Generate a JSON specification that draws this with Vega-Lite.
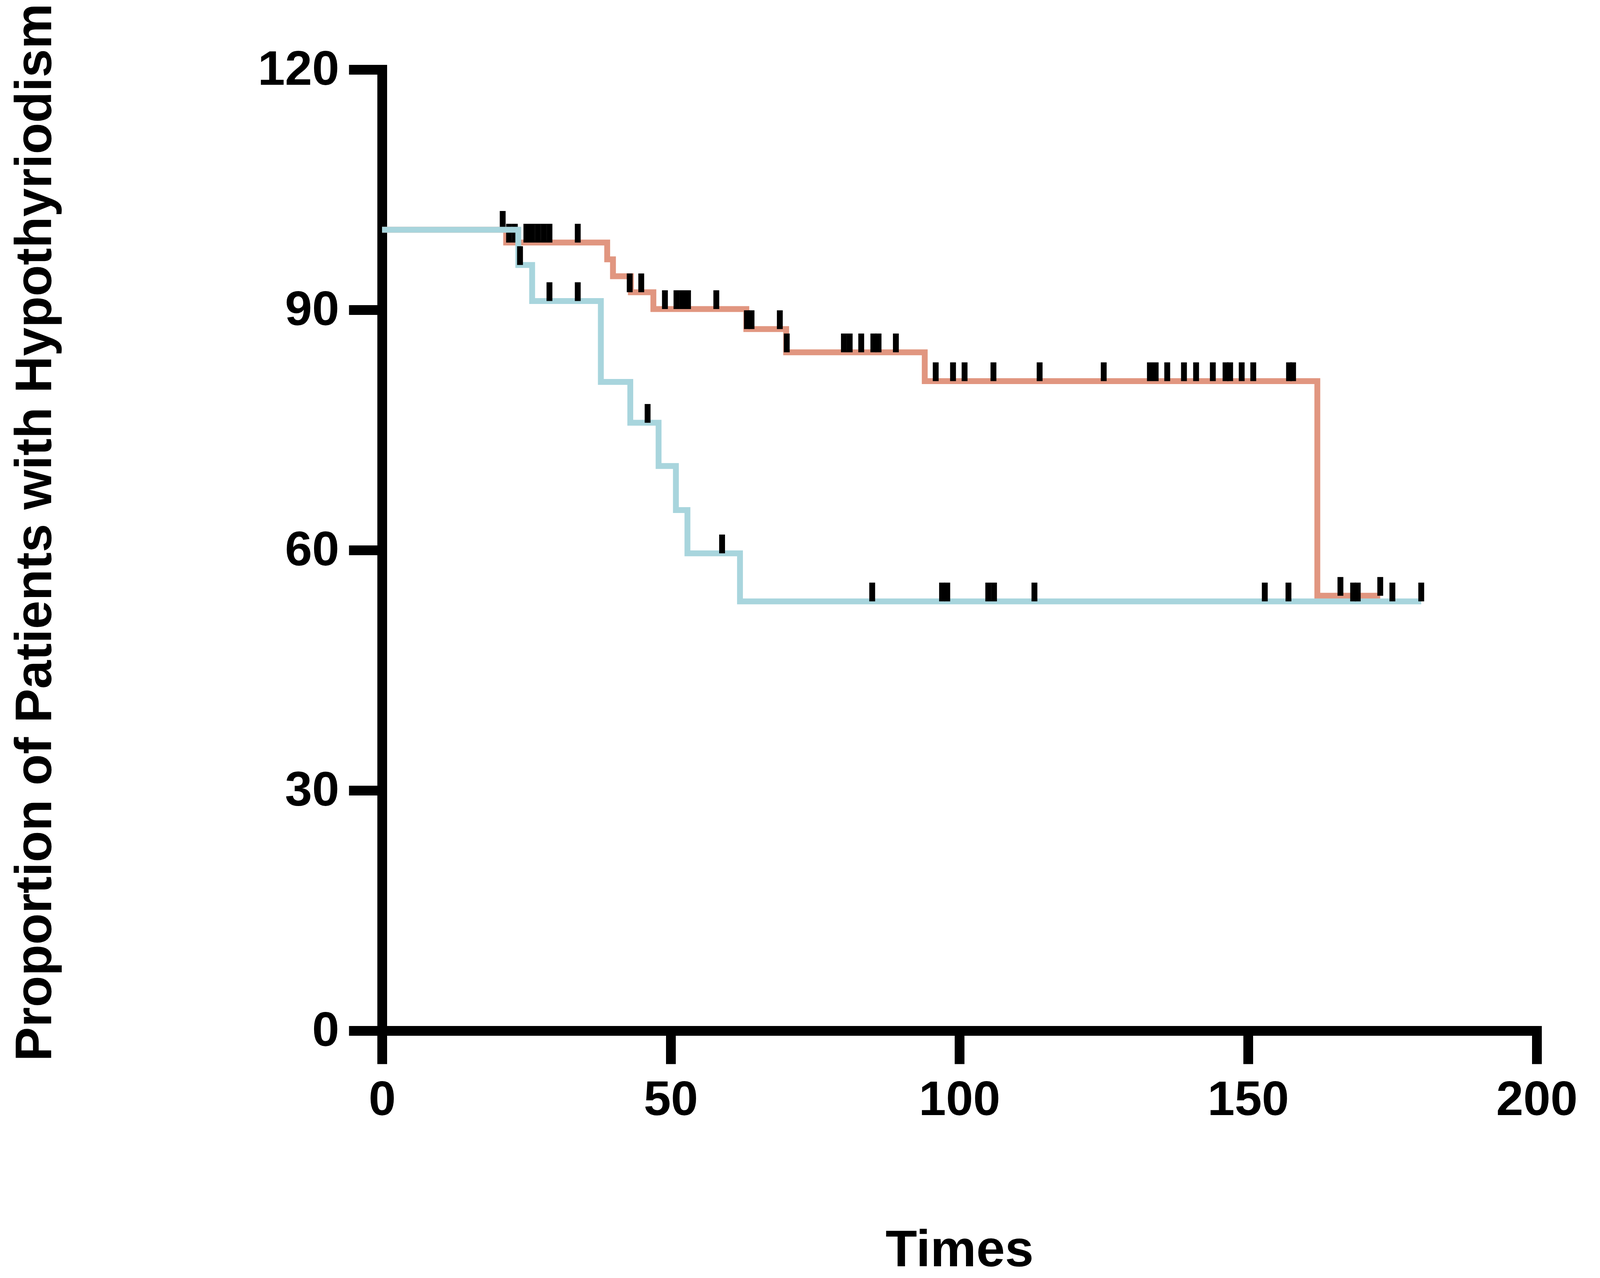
{
  "$schema": "https://vega.github.io/schema/vega-lite/v6.json",
  "description": "Kaplan-Meier style curves, hypothyroidism",
  "autosize": {"type": "none"},
  "width": 2956,
  "height": 2460,
  "padding": {"left": 978, "top": 178, "right": 1028, "bottom": 633},
  "background": "white",
  "datasets": {
    "steps": [
      {"group": "R+C+I", "time": 0, "surv": 100},
      {"group": "R+C+I", "time": 21.5, "surv": 98.4},
      {"group": "R+C+I", "time": 39.0, "surv": 96.3},
      {"group": "R+C+I", "time": 40.0, "surv": 94.2},
      {"group": "R+C+I", "time": 43.1, "surv": 92.2},
      {"group": "R+C+I", "time": 47.0, "surv": 90.1},
      {"group": "R+C+I", "time": 63.1, "surv": 87.6},
      {"group": "R+C+I", "time": 70.0, "surv": 84.7},
      {"group": "R+C+I", "time": 94.0, "surv": 81.1},
      {"group": "R+C+I", "time": 162.0, "surv": 54.3},
      {"group": "R+C+I", "time": 172.9, "surv": 54.3},
      {"group": "C+I", "time": 0, "surv": 100},
      {"group": "C+I", "time": 23.6, "surv": 95.6},
      {"group": "C+I", "time": 26.0, "surv": 91.1},
      {"group": "C+I", "time": 37.9, "surv": 81.0},
      {"group": "C+I", "time": 43.0, "surv": 75.9},
      {"group": "C+I", "time": 47.9, "surv": 70.5},
      {"group": "C+I", "time": 50.9, "surv": 65.0},
      {"group": "C+I", "time": 52.9, "surv": 59.6},
      {"group": "C+I", "time": 62.0, "surv": 53.6},
      {"group": "C+I", "time": 180.0, "surv": 53.6}
    ],
    "censor": [
      {"group": "R+C+I", "time": 20.9, "surv": 100},
      {"group": "R+C+I", "time": 22.0, "surv": 98.4},
      {"group": "R+C+I", "time": 23.0, "surv": 98.4},
      {"group": "R+C+I", "time": 25.0, "surv": 98.4},
      {"group": "R+C+I", "time": 26.0, "surv": 98.4},
      {"group": "R+C+I", "time": 27.0, "surv": 98.4},
      {"group": "R+C+I", "time": 28.0, "surv": 98.4},
      {"group": "R+C+I", "time": 29.0, "surv": 98.4},
      {"group": "R+C+I", "time": 33.9, "surv": 98.4},
      {"group": "R+C+I", "time": 42.9, "surv": 92.2},
      {"group": "R+C+I", "time": 44.9, "surv": 92.2},
      {"group": "R+C+I", "time": 49.0, "surv": 90.1},
      {"group": "R+C+I", "time": 51.0, "surv": 90.1},
      {"group": "R+C+I", "time": 52.0, "surv": 90.1},
      {"group": "R+C+I", "time": 53.0, "surv": 90.1},
      {"group": "R+C+I", "time": 57.9, "surv": 90.1},
      {"group": "R+C+I", "time": 63.2, "surv": 87.6},
      {"group": "R+C+I", "time": 64.0, "surv": 87.6},
      {"group": "R+C+I", "time": 68.9, "surv": 87.6},
      {"group": "R+C+I", "time": 70.1, "surv": 84.7},
      {"group": "R+C+I", "time": 80.0, "surv": 84.7},
      {"group": "R+C+I", "time": 81.0, "surv": 84.7},
      {"group": "R+C+I", "time": 83.0, "surv": 84.7},
      {"group": "R+C+I", "time": 85.1, "surv": 84.7},
      {"group": "R+C+I", "time": 86.0, "surv": 84.7},
      {"group": "R+C+I", "time": 89.0, "surv": 84.7},
      {"group": "R+C+I", "time": 95.9, "surv": 81.1},
      {"group": "R+C+I", "time": 98.9, "surv": 81.1},
      {"group": "R+C+I", "time": 100.9, "surv": 81.1},
      {"group": "R+C+I", "time": 105.9, "surv": 81.1},
      {"group": "R+C+I", "time": 113.9, "surv": 81.1},
      {"group": "R+C+I", "time": 125.0, "surv": 81.1},
      {"group": "R+C+I", "time": 133.0, "surv": 81.1},
      {"group": "R+C+I", "time": 134.0, "surv": 81.1},
      {"group": "R+C+I", "time": 136.0, "surv": 81.1},
      {"group": "R+C+I", "time": 138.9, "surv": 81.1},
      {"group": "R+C+I", "time": 141.0, "surv": 81.1},
      {"group": "R+C+I", "time": 143.9, "surv": 81.1},
      {"group": "R+C+I", "time": 146.1, "surv": 81.1},
      {"group": "R+C+I", "time": 146.9, "surv": 81.1},
      {"group": "R+C+I", "time": 148.9, "surv": 81.1},
      {"group": "R+C+I", "time": 150.9, "surv": 81.1},
      {"group": "R+C+I", "time": 157.1, "surv": 81.1},
      {"group": "R+C+I", "time": 157.8, "surv": 81.1},
      {"group": "R+C+I", "time": 166.0, "surv": 54.3},
      {"group": "R+C+I", "time": 172.9, "surv": 54.3},
      {"group": "C+I", "time": 23.9, "surv": 95.6},
      {"group": "C+I", "time": 29.0, "surv": 91.1},
      {"group": "C+I", "time": 33.9, "surv": 91.1},
      {"group": "C+I", "time": 46.0, "surv": 75.9},
      {"group": "C+I", "time": 58.9, "surv": 59.6},
      {"group": "C+I", "time": 84.9, "surv": 53.6},
      {"group": "C+I", "time": 97.0, "surv": 53.6},
      {"group": "C+I", "time": 97.9, "surv": 53.6},
      {"group": "C+I", "time": 105.0, "surv": 53.6},
      {"group": "C+I", "time": 106.0, "surv": 53.6},
      {"group": "C+I", "time": 113.0, "surv": 53.6},
      {"group": "C+I", "time": 152.9, "surv": 53.6},
      {"group": "C+I", "time": 157.0, "surv": 53.6},
      {"group": "C+I", "time": 168.2, "surv": 53.6},
      {"group": "C+I", "time": 169.0, "surv": 53.6},
      {"group": "C+I", "time": 175.0, "surv": 53.6},
      {"group": "C+I", "time": 180.0, "surv": 53.6}
    ]
  },
  "encoding": {
    "x": {
      "field": "time",
      "type": "quantitative",
      "scale": {"domain": [0, 200], "nice": false},
      "axis": {
        "title": "Times",
        "values": [0, 50, 100, 150, 200],
        "labelFlush": false,
        "titleY": 602,
        "titleBaseline": "alphabetic",
        "labelPadding": 31
      }
    },
    "y": {
      "field": "surv",
      "type": "quantitative",
      "scale": {"domain": [0, 120], "nice": false},
      "axis": {
        "title": "Proportion of Patients with Hypothyriodism",
        "values": [0, 30, 60, 90, 120],
        "labelFlush": false,
        "titleX": -848,
        "titleY": 1184,
        "titleAngle": 270,
        "titleAlign": "center",
        "titleBaseline": "alphabetic",
        "titleFontSize": 131,
        "titleLimit": 0,
        "labelPadding": 25
      }
    }
  },
  "layer": [
    {
      "data": {"name": "steps"},
      "transform": [{"filter": {"field": "group", "equal": "R+C+I"}}],
      "mark": {"type": "line", "interpolate": "step-after", "strokeWidth": 15},
      "encoding": {
        "color": {
          "field": "group",
          "type": "nominal",
          "scale": {"domain": ["R+C+I", "C+I"], "range": ["#E19680", "#A8D5DD"]},
          "legend": {
            "title": null,
            "orient": "none",
            "legendX": 3323.5,
            "legendY": 24,
            "padding": 0,
            "symbolType": "stroke",
            "symbolSize": 30625,
            "symbolStrokeWidth": 15,
            "labelFont": "Liberation Sans",
            "labelFontSize": 130,
            "labelFontWeight": "normal",
            "labelColor": "black",
            "labelLimit": 0,
            "labelOffset": 100,
            "rowPadding": 64,
            "zindex": 1,
            "encode": {"symbols": {"update": {"strokeCap": {"value": "round"}}}}
          }
        }
      }
    },
    {
      "data": {"name": "censor"},
      "transform": [{"filter": {"field": "group", "equal": "R+C+I"}}],
      "mark": {"type": "tick", "orient": "vertical", "size": 48, "thickness": 15, "yOffset": -24, "color": "black"},
      "encoding": {
        "opacity": {
          "field": "group",
          "type": "ordinal",
          "scale": {"range": [1, 1]},
          "legend": {
            "title": null,
            "orient": "none",
            "legendX": 3323.5,
            "legendY": 24,
            "padding": 0,
            "symbolType": "M-0.086,-0.55H0.086V0H-0.086Z",
            "symbolSize": 30625,
            "symbolStrokeWidth": 15,
            "symbolFillColor": "black",
            "symbolStrokeColor": "transparent",
            "labelExpr": "' '",
            "labelFont": "Liberation Sans",
            "labelFontSize": 130,
            "labelOpacity": 0,
            "labelLimit": 0,
            "labelOffset": 100,
            "rowPadding": 64,
            "zindex": 2
          }
        }
      }
    },
    {
      "data": {"name": "steps"},
      "transform": [{"filter": {"field": "group", "equal": "C+I"}}],
      "mark": {"type": "line", "interpolate": "step-after", "strokeWidth": 15},
      "encoding": {
        "color": {"field": "group", "type": "nominal"}
      }
    },
    {
      "data": {"name": "censor"},
      "transform": [{"filter": {"field": "group", "equal": "C+I"}}],
      "mark": {"type": "tick", "orient": "vertical", "size": 48, "thickness": 15, "yOffset": -24, "color": "black"},
      "encoding": {
        "opacity": {"field": "group", "type": "ordinal"}
      }
    }
  ],
  "config": {
    "view": {"stroke": null},
    "font": "Liberation Sans",
    "axis": {
      "grid": false,
      "domainColor": "black",
      "domainWidth": 25,
      "domainCap": "square",
      "tickColor": "black",
      "tickWidth": 25,
      "tickSize": 85,
      "labelFont": "Liberation Sans",
      "labelFontSize": 125,
      "labelFontWeight": "bold",
      "labelColor": "black",
      "labelLimit": 0,
      "titleFont": "Liberation Sans",
      "titleFontSize": 132,
      "titleFontWeight": "bold",
      "titleColor": "black"
    }
  }
}
